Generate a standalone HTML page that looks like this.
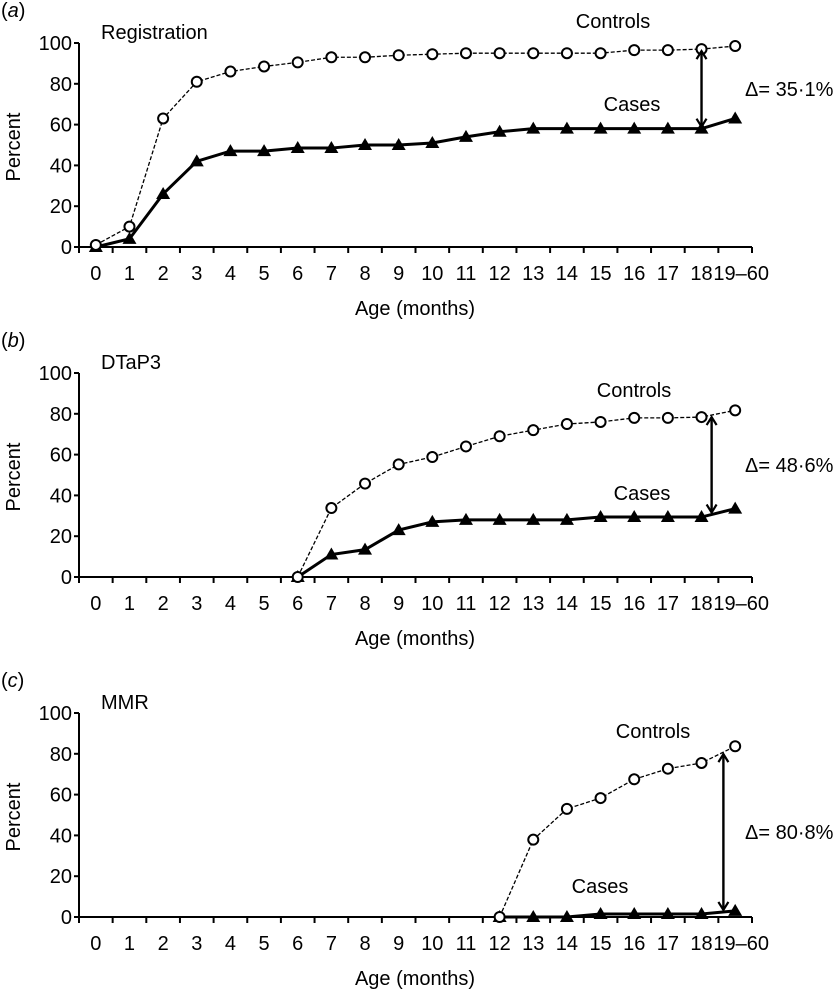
<!DOCTYPE html>
<html><head><meta charset="utf-8"><style>
body{margin:0;background:#fff;}
svg text{font-family:"Liberation Sans",Arial,sans-serif;fill:#000;}
</style></head><body>
<svg id="chart" width="833" height="990" viewBox="0 0 833 990" xmlns="http://www.w3.org/2000/svg">
<defs><marker id="ah" markerWidth="12" markerHeight="12" refX="9" refY="6" orient="auto-start-reverse" markerUnits="userSpaceOnUse"><path d="M1,1 L9,6 L1,11" fill="none" stroke="#000" stroke-width="2.2"/></marker></defs>
</svg>
<script>
const categories = ["0","1","2","3","4","5","6","7","8","9","10","11","12","13","14","15","16","17","18","19–60"];
const yTicks = [0,20,40,60,80,100];
const panelTitles = ["Registration","DTaP3","MMR"];
const panelLetters = ["a","b","c"];
const deltaLabels = ["Δ= 35·1%","Δ= 48·6%","Δ= 80·8%"];
const startIndex = [0,6,12];
const controlsA = [1,10,63,81,86,88.5,90.5,93,93,94,94.5,95,95,95,95,95,96.5,96.5,97,98.5];
const casesA = [0,4,26,42,47,47,48.5,48.5,50,50,51,54,56.5,58,58,58,58,58,58,63];
const controlsB = [0,33.8,45.8,55.2,58.8,64,69,72,75,76,78,78,78.4,81.7];
const casesB = [0,11,13.4,23,27,28,28,28,28,29.4,29.4,29.4,29.4,33.5];
const controlsC = [0,37.9,53,58.3,67.5,72.7,75.5,83.7];
const casesC = [0,0,0,1.5,1.5,1.5,1.5,3];
const arrowPos = [18,18.3,18.65];
const controlsAll=[controlsA,controlsB,controlsC], casesAll=[casesA,casesB,casesC];
const svg=document.getElementById('chart');
const NS='http://www.w3.org/2000/svg';
function mk(tag,attrs,parent){const e=document.createElementNS(NS,tag);for(const k in attrs)e.setAttribute(k,attrs[k]);(parent||svg).appendChild(e);return e;}
const zeroY=[247,577,917];
const axL=79, axR=752, step=(752-79)/20, ppu=2.04;
const FS=20;
const ctrlPos=[[613,28],[634,397],[653,738]], casePos=[[632,111],[642,500],[600,893]];
for(let p=0;p<3;p++){
  const y0=zeroY[p];
  const xs=i=>axL+(i+0.5)*step;
  const ys=v=>y0-v*ppu;
  const g=mk('g',{});
  
  
  let t=mk('text',{x:1,y:y0-230,'font-size':FS},g);t.innerHTML='(<tspan font-style="italic">'+panelLetters[p]+'</tspan>)';
  
  t=mk('text',{x:101,y:y0-208,'font-size':FS},g);t.textContent=panelTitles[p];
  
  const ax=mk('path',{d:`M${axL},${ys(100)} V${y0} H${axR}`,stroke:'#000','stroke-width':2,fill:'none'},g);
  
  yTicks.forEach(v=>{
    mk('line',{x1:axL-5,x2:axL,y1:ys(v),y2:ys(v),stroke:'#000','stroke-width':2},g);
    const tl=mk('text',{x:axL-7,y:ys(v)+7,'font-size':FS,'text-anchor':'end'},g);tl.textContent=v;
    
  });
  for(let k=0;k<=20;k++) mk('line',{x1:axL+k*step,x2:axL+k*step,y1:y0,y2:y0+6,stroke:'#000','stroke-width':2},g);
  categories.forEach((c,i)=>{const tl=mk('text',{x:xs(i)+(i==19?6:0),y:y0+33,'font-size':FS,'text-anchor':'middle'},g);tl.textContent=c;
    });
  t=mk('text',{x:415,y:y0+68,'font-size':FS,'text-anchor':'middle'},g);t.textContent='Age (months)';
  
  t=mk('text',{x:0,y:0,'font-size':FS,'text-anchor':'middle',transform:`translate(20,${y0-100}) rotate(-90)`},g);t.textContent='Percent';
  
  const s=startIndex[p];
  const ctrl=controlsAll[p], cs=casesAll[p];
  const lc=mk('polyline',{points:ctrl.map((v,j)=>xs(s+j)+','+ys(v)).join(' '),fill:'none',stroke:'#000','stroke-width':1.3,'stroke-dasharray':'4,2'},g);
  
  const la=mk('polyline',{points:cs.map((v,j)=>xs(s+j)+','+ys(v)).join(' '),fill:'none',stroke:'#000','stroke-width':3},g);
  
  cs.forEach((v,j)=>{const x=xs(s+j),y=ys(v);const m=mk('path',{d:`M${x-7},${y+5} L${x+7},${y+5} L${x},${y-7} Z`,fill:'#000'},g);
    });
  ctrl.forEach((v,j)=>{const m=mk('circle',{cx:xs(s+j),cy:ys(v),r:5,fill:'#fff',stroke:'#000','stroke-width':2},g);
    });
  const ap=arrowPos[p];
  const interp=(arr,pos)=>{const j=pos-s;const a=Math.floor(j),b=Math.min(a+1,arr.length-1);const f=j-a;return arr[a]*(1-f)+arr[b]*f;};
  const ar=mk('line',{x1:xs(ap),x2:xs(ap),y1:ys(interp(ctrl,ap))+2,y2:ys(interp(cs,ap))-2,stroke:'#000','stroke-width':2.4,'marker-start':'url(#ah)','marker-end':'url(#ah)'},g);
  
  t=mk('text',{x:745,y:(ys(interp(ctrl,ap))+ys(interp(cs,ap)))/2+7,'font-size':FS},g);t.textContent=deltaLabels[p];
  
  t=mk('text',{x:ctrlPos[p][0],y:ctrlPos[p][1],'font-size':FS,'text-anchor':'middle'},g);t.textContent='Controls';
  
  t=mk('text',{x:casePos[p][0],y:casePos[p][1],'font-size':FS,'text-anchor':'middle'},g);t.textContent='Cases';
  
}
</script>
</body></html>
